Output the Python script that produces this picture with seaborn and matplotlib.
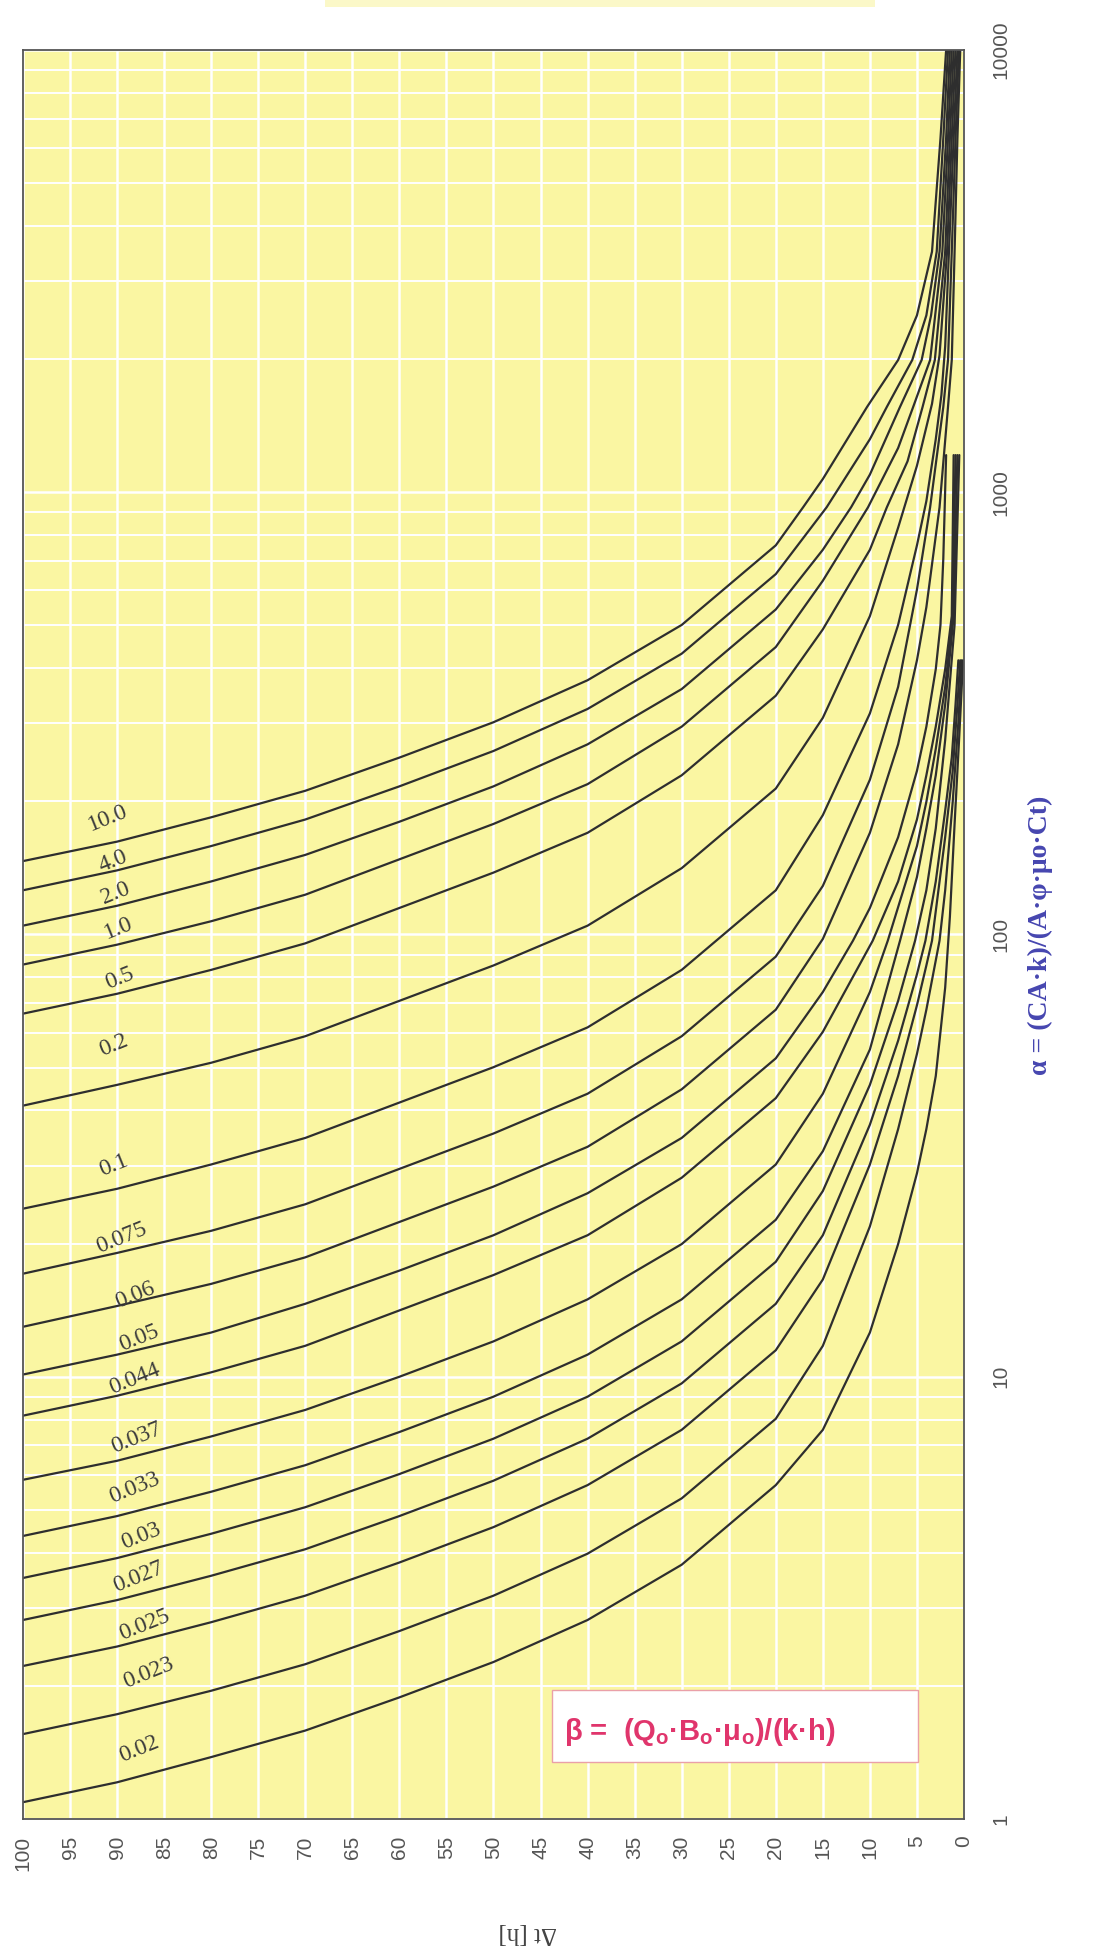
import numpy as np
import pandas as pd
import matplotlib
matplotlib.use("Agg")
import matplotlib.pyplot as plt
from matplotlib.ticker import LogLocator, FixedLocator, NullFormatter
from matplotlib.patches import Rectangle
import seaborn as sns

sns.set_theme(style="white")
plt.rcParams["font.family"] = ["Liberation Sans", "DejaVu Sans"]
plt.rcParams["mathtext.fontset"] = "custom"
plt.rcParams["mathtext.rm"] = "Liberation Sans:bold"

# shut-in time [h] along the common left part of every curve
dt_early = [100, 90, 80, 70, 60, 50, 40, 30, 20]

# each beta curve: delta t [h] and log10(alpha)
dt_10_0 = dt_early + [17.1, 15, 10.3, 7, 5, 3.4, 2.5, 1.9]
lg_10_0 = [2.166, 2.21, 2.265, 2.325, 2.40, 2.48, 2.575, 2.70, 2.88, 2.966, 3.03, 3.193, 3.299, 3.40, 3.544, 3.80, 4.0]

dt_4_0 = dt_early + [14.6, 10, 8.2, 5.5, 4, 2.9, 2.2, 1.7]
lg_4_0 = [2.10, 2.145, 2.20, 2.26, 2.335, 2.415, 2.51, 2.635, 2.815, 2.966, 3.12, 3.193, 3.299, 3.40, 3.544, 3.80, 4.0]

dt_2_0 = dt_early + [15, 12, 10, 6.8, 4.5, 3.5, 2.6, 1.9, 1.5]
lg_2_0 = [2.02, 2.065, 2.12, 2.18, 2.255, 2.335, 2.43, 2.555, 2.735, 2.87, 2.966, 3.04, 3.193, 3.299, 3.40, 3.544, 3.80, 4.0]

dt_1_0 = dt_early + [15, 10.2, 7, 5.4, 3.6, 2.3, 1.7, 1.3]
lg_1_0 = [1.932, 1.977, 2.03, 2.09, 2.17, 2.25, 2.34, 2.47, 2.65, 2.80, 2.966, 3.10, 3.193, 3.299, 3.544, 3.80, 4.0]

dt_0_5 = dt_early + [15, 10, 8.2, 6, 4.4, 3.1, 2.0, 1.5, 1.1]
lg_0_5 = [1.821, 1.866, 1.92, 1.98, 2.06, 2.14, 2.23, 2.36, 2.54, 2.69, 2.87, 2.966, 3.07, 3.193, 3.299, 3.544, 3.80, 4.0]

dt_0_2 = dt_early + [15, 10, 7, 5, 3.4, 2.6, 1.8, 1.3, 0.9]
lg_0_2 = [1.613, 1.66, 1.71, 1.77, 1.85, 1.93, 2.02, 2.15, 2.33, 2.49, 2.72, 2.92, 3.06, 3.20, 3.31, 3.544, 3.80, 4.0]

dt_0_1 = dt_early + [15, 10, 7, 5, 4, 3, 2.4, 2.0, 1.6, 1.1, 0.7]
lg_0_1 = [1.38, 1.425, 1.48, 1.54, 1.62, 1.70, 1.79, 1.92, 2.10, 2.27, 2.50, 2.70, 2.88, 2.98, 3.12, 3.22, 3.33, 3.544, 3.80, 4.0]

dt_0_075 = dt_early + [15, 10, 7, 5, 3.6, 2.2, 1.7, 1.3, 0.9, 0.55]
lg_0_075 = [1.233, 1.28, 1.33, 1.39, 1.47, 1.55, 1.64, 1.77, 1.95, 2.11, 2.35, 2.56, 2.78, 2.966, 3.193, 3.299, 3.544, 3.80, 4.0]

dt_0_06 = dt_early + [15, 10, 7, 5, 4, 2.6, 1.7, 1.3, 1.0, 0.7, 0.4]
lg_0_06 = [1.113, 1.16, 1.21, 1.27, 1.35, 1.43, 1.52, 1.65, 1.83, 1.99, 2.23, 2.43, 2.62, 2.74, 2.966, 3.193, 3.299, 3.544, 3.80, 4.0]

dt_0_05 = dt_early + [15, 11.8, 10, 7, 5, 4, 3, 2.5, 2.2, 1.9]
lg_0_05 = [1.005, 1.05, 1.10, 1.165, 1.24, 1.32, 1.415, 1.54, 1.72, 1.87, 1.986, 2.06, 2.22, 2.37, 2.47, 2.60, 2.70, 2.85, 3.084]

dt_0_044 = dt_early + [15, 9.7, 7, 5, 4, 3, 2, 1.3, 1.1]
lg_0_044 = [0.912, 0.957, 1.01, 1.07, 1.15, 1.23, 1.32, 1.45, 1.63, 1.78, 1.986, 2.12, 2.26, 2.36, 2.47, 2.60, 2.72, 3.084]

dt_0_037 = dt_early + [15, 10, 8.1, 5, 4, 3, 2, 1.2, 0.9]
lg_0_037 = [0.767, 0.81, 0.865, 0.925, 1.0, 1.08, 1.175, 1.30, 1.48, 1.64, 1.87, 1.986, 2.20, 2.30, 2.42, 2.56, 2.72, 3.084]

dt_0_033 = dt_early + [15, 10, 6.8, 5, 4, 3, 2, 1.1, 0.7]
lg_0_033 = [0.64, 0.685, 0.74, 0.80, 0.875, 0.955, 1.05, 1.175, 1.355, 1.51, 1.74, 1.986, 2.13, 2.24, 2.36, 2.52, 2.72, 3.084]

dt_0_03 = dt_early + [15, 10, 7, 5.2, 4, 3, 2, 1.0, 0.5]
lg_0_03 = [0.545, 0.59, 0.645, 0.705, 0.78, 0.86, 0.955, 1.08, 1.26, 1.42, 1.66, 1.85, 1.986, 2.10, 2.24, 2.44, 2.70, 3.084]

dt_0_027 = dt_early + [15, 10, 7, 5, 4.1, 3, 2, 1.3, 0.9, 0.6]
lg_0_027 = [0.45, 0.495, 0.55, 0.61, 0.685, 0.765, 0.86, 0.985, 1.165, 1.32, 1.57, 1.76, 1.91, 1.986, 2.12, 2.28, 2.40, 2.52, 2.62]

dt_0_025 = dt_early + [15, 10, 7, 5, 4, 3.4, 2, 1.2, 0.7, 0.4]
lg_0_025 = [0.346, 0.39, 0.445, 0.505, 0.58, 0.66, 0.755, 0.88, 1.06, 1.22, 1.48, 1.68, 1.84, 1.93, 1.986, 2.22, 2.37, 2.52, 2.62]

dt_0_023 = dt_early + [15, 10, 7, 5, 4, 2.6, 2, 1.2, 0.6, 0.25]
lg_0_023 = [0.192, 0.237, 0.29, 0.35, 0.425, 0.505, 0.60, 0.725, 0.905, 1.07, 1.34, 1.56, 1.73, 1.83, 1.986, 2.10, 2.30, 2.48, 2.62]

dt_0_02 = dt_early + [15, 10, 7, 5, 4, 3, 2, 1.5, 1.0, 0.5, 0.1]
lg_0_02 = [0.038, 0.083, 0.14, 0.20, 0.275, 0.355, 0.45, 0.575, 0.755, 0.88, 1.10, 1.30, 1.46, 1.56, 1.68, 1.88, 2.04, 2.25, 2.45, 2.62]

beta_names = ["10.0", "4.0", "2.0", "1.0", "0.5", "0.2", "0.1", "0.075", "0.06",
              "0.05", "0.044", "0.037", "0.033", "0.03", "0.027", "0.025", "0.023", "0.02"]
curve_dt = [dt_10_0, dt_4_0, dt_2_0, dt_1_0, dt_0_5, dt_0_2, dt_0_1, dt_0_075, dt_0_06,
            dt_0_05, dt_0_044, dt_0_037, dt_0_033, dt_0_03, dt_0_027, dt_0_025, dt_0_023, dt_0_02]
curve_lg = [lg_10_0, lg_4_0, lg_2_0, lg_1_0, lg_0_5, lg_0_2, lg_0_1, lg_0_075, lg_0_06,
            lg_0_05, lg_0_044, lg_0_037, lg_0_033, lg_0_03, lg_0_027, lg_0_025, lg_0_023, lg_0_02]

# curve label anchors (delta t, alpha)
label_dt = [91.0, 90.4, 90.2, 89.9, 89.7, 90.4, 90.4, 89.5, 88.1, 87.7, 88.1, 87.9,
            88.1, 87.5, 87.7, 87.1, 86.7, 87.7]
label_alpha = [183, 146, 124, 103, 79.5, 56, 30, 20.6, 15.3, 12.2, 9.9, 7.28, 5.61,
               4.37, 3.53, 2.75, 2.14, 1.44]

frames = []
for name, dts, lgs in zip(beta_names, curve_dt, curve_lg):
    frames.append(pd.DataFrame({"beta": name, "dt": dts, "alpha": np.power(10.0, lgs)}))
df = pd.concat(frames, ignore_index=True)

W, H = 1093, 1960
fig = plt.figure(figsize=(W / 100, H / 100), dpi=100)
fig.patch.set_facecolor("white")
fig.patches.append(Rectangle((325 / W, 1 - 7 / H), 550 / W, 7 / H, transform=fig.transFigure,
                             facecolor="#fbf8c8", edgecolor="none"))
L, R, T, B = 23, 964, 50, 1819
ax = fig.add_axes([L / W, 1 - B / H, (R - L) / W, (B - T) / H])
ax.set_facecolor("#faf6a2")

sns.lineplot(data=df, x="dt", y="alpha", units="beta", estimator=None, sort=False,
             color="#2e2e2e", linewidth=1.6, ax=ax, legend=False)
for ln in ax.get_lines():
    ln.set_solid_capstyle("round")
    ln.set_solid_joinstyle("round")

ax.set_yscale("log")
ax.set_xlim(100, 0)
ax.set_ylim(1, 10000)

ax.xaxis.set_major_locator(FixedLocator(list(range(0, 101, 5))))
ax.yaxis.set_major_locator(FixedLocator([1, 10, 100, 1000, 10000]))
ax.yaxis.set_minor_locator(LogLocator(base=10, subs=np.arange(2, 10)))
ax.yaxis.set_minor_formatter(NullFormatter())
ax.set_yticklabels(["1", "10", "100", "1000", "10000"])
ax.grid(True, which="major", color="white", linewidth=1.8)
ax.grid(True, which="minor", axis="y", color="white", linewidth=1.4)
ax.set_axisbelow(True)

ax.yaxis.tick_right()
ax.tick_params(axis="both", which="both", length=0)
ax.tick_params(axis="x", pad=12, labelsize=15, labelcolor="#555555", rotation=90)
ax.tick_params(axis="y", pad=20, labelsize=15, labelcolor="#555555")
for lab in ax.get_yticklabels():
    lab.set_rotation(90)
    lab.set_va("center")
ax.set_xlabel("")
ax.set_ylabel("")

for s in ax.spines.values():
    s.set_color("#555555")
    s.set_linewidth(1.3)

for name, t, a in zip(beta_names, label_dt, label_alpha):
    ax.text(t, a, name, rotation=22, ha="center", va="center", fontsize=17,
            family=["Liberation Serif", "DejaVu Serif"], color="#3c3c3c",
            rotation_mode="anchor")

# beta definition box
ax.add_patch(Rectangle((0.562, 0.032), 0.389, 0.041, transform=ax.transAxes,
                       facecolor="white", edgecolor="#eaa0a8", linewidth=1.0, zorder=5))
ax.text(0.575, 0.049, r"β =  (Q$_\mathrm{o}$·B$_\mathrm{o}$·μ$_\mathrm{o}$)/(k·h)",
        transform=ax.transAxes, ha="left", va="center", fontsize=21,
        fontweight="bold", color="#e0356c", zorder=6)

fig.text(0.952, 0.523, "α = (CA·k)/(A·φ·μo·Ct)", rotation=90, ha="center", va="center",
         fontsize=20, fontweight="bold", color="#4646b0",
         family=["Liberation Serif", "DejaVu Serif"])
fig.text(0.483, 0.014, "Δt [h]", rotation=180, ha="center", va="center", fontsize=18,
         color="#444444", family=["Liberation Serif", "DejaVu Serif"])

fig.savefig("out.png", dpi=100)
